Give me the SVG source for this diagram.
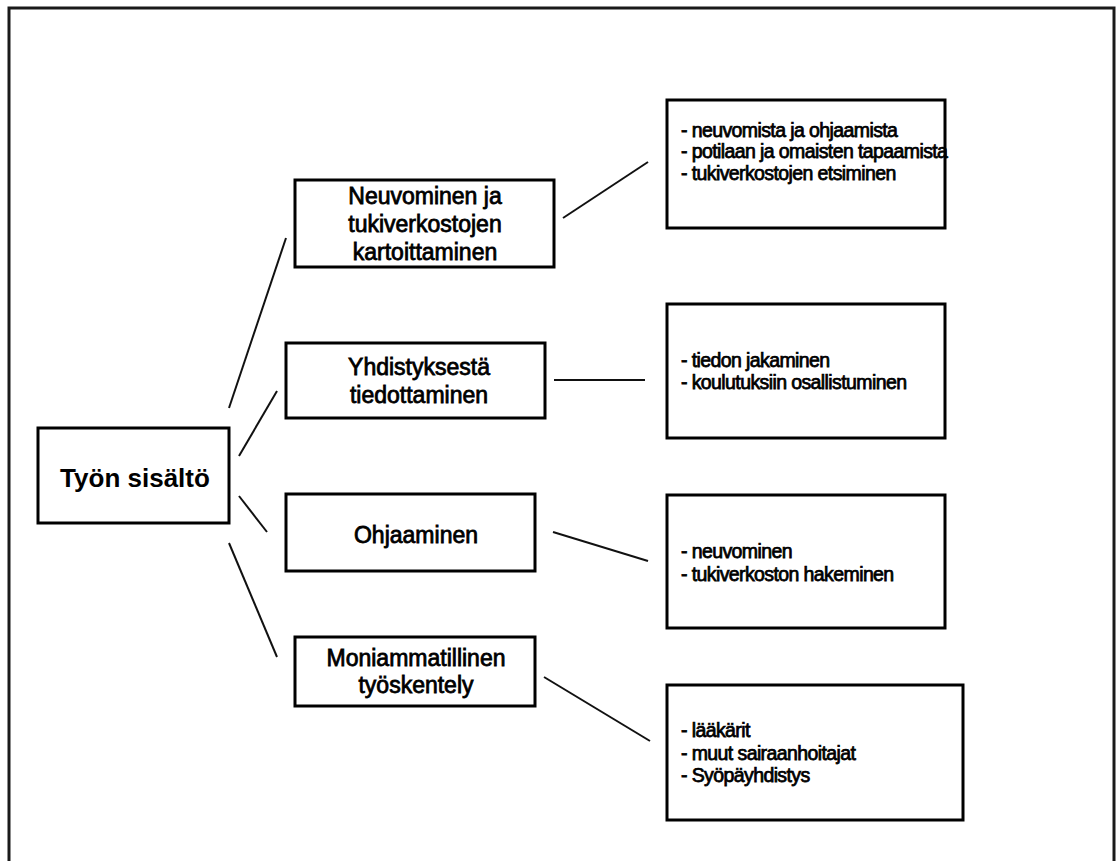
<svg xmlns="http://www.w3.org/2000/svg" width="1116" height="861" viewBox="0 0 1116 861">
<style>
.frame{fill:none;stroke:#1a1a1a;stroke-width:3}
.box{fill:#fff;stroke:#000;stroke-width:3}
.main{font-family:"Liberation Sans",Arial,sans-serif;font-size:26px;font-weight:bold;fill:#000;text-anchor:middle}
.mid{font-family:"Liberation Sans",Arial,sans-serif;font-size:23px;fill:#000;text-anchor:middle;stroke:#000;stroke-width:0.8}
.lst{font-family:"Liberation Sans",Arial,sans-serif;font-size:19.5px;fill:#000;letter-spacing:-0.6px;stroke:#000;stroke-width:0.75}
.con line{stroke:#111;stroke-width:2}
</style>
<rect width="1116" height="861" fill="#fff"/>
<rect class="frame" x="9" y="8" width="1105" height="870"/>
<g class="con">
<line x1="229" y1="408" x2="286" y2="238"/>
<line x1="239" y1="456" x2="277" y2="391"/>
<line x1="239" y1="496" x2="267" y2="532"/>
<line x1="229" y1="543" x2="277" y2="657"/>
<line x1="563" y1="218" x2="648" y2="162"/>
<line x1="554" y1="380" x2="645" y2="380"/>
<line x1="553" y1="532" x2="648" y2="561"/>
<line x1="544" y1="677" x2="650" y2="741"/>
</g>
<g id="n-main">
<rect class="box" x="38" y="428" width="191" height="95"/>
<text class="main" x="135" y="487">Työn sisältö</text>
</g>
<g id="n1">
<rect class="box" x="295" y="180" width="259" height="87"/>
<text class="mid" x="425" y="204">Neuvominen ja</text>
<text class="mid" x="425" y="232">tukiverkostojen</text>
<text class="mid" x="425" y="260">kartoittaminen</text>
</g>
<g id="n2">
<rect class="box" x="286" y="343" width="259" height="75"/>
<text class="mid" x="419" y="375">Yhdistyksestä</text>
<text class="mid" x="419" y="403">tiedottaminen</text>
</g>
<g id="n3">
<rect class="box" x="286" y="494" width="249" height="77"/>
<text class="mid" x="416" y="543">Ohjaaminen</text>
</g>
<g id="n4">
<rect class="box" x="295" y="637" width="240" height="69"/>
<text class="mid" x="416" y="666">Moniammatillinen</text>
<text class="mid" x="416" y="693">työskentely</text>
</g>
<g id="r1">
<rect class="box" x="667" y="100" width="278" height="128"/>
<text class="lst" x="681" y="137">- neuvomista ja ohjaamista</text>
<text class="lst" x="681" y="158">- potilaan ja omaisten tapaamista</text>
<text class="lst" x="681" y="180">- tukiverkostojen etsiminen</text>
</g>
<g id="r2">
<rect class="box" x="667" y="304" width="278" height="134"/>
<text class="lst" x="681" y="367">- tiedon jakaminen</text>
<text class="lst" x="681" y="389">- koulutuksiin osallistuminen</text>
</g>
<g id="r3">
<rect class="box" x="667" y="495" width="278" height="133"/>
<text class="lst" x="681" y="558">- neuvominen</text>
<text class="lst" x="681" y="581">- tukiverkoston hakeminen</text>
</g>
<g id="r4">
<rect class="box" x="667" y="685" width="296" height="135"/>
<text class="lst" x="681" y="737">- lääkärit</text>
<text class="lst" x="681" y="760">- muut sairaanhoitajat</text>
<text class="lst" x="681" y="782">- Syöpäyhdistys</text>
</g>
</svg>
